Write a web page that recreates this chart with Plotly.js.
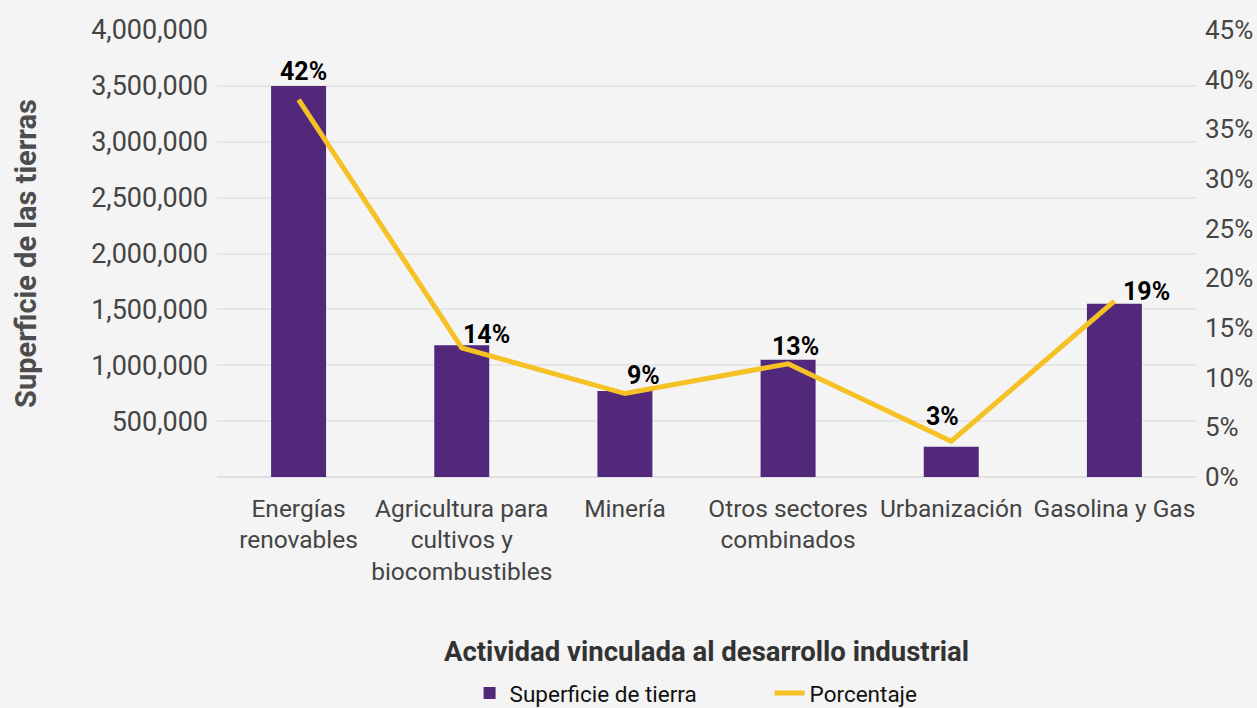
<!DOCTYPE html>
<html>
<head>
<meta charset="utf-8">
<script src="https://cdn.plot.ly/plotly-3.0.1.min.js"></script>
<style>html,body{margin:0;padding:0;background:#f4f4f4;}#chart{width:1257px;height:708px;}</style>
</head>
<body>
<div id="chart"></div>
<script>
const categories = [
  "Energías<br>renovables",
  "Agricultura para<br>cultivos y<br>biocombustibles",
  "Minería",
  "Otros sectores<br>combinados",
  "Urbanización",
  "Gasolina y Gas"
];
const superficie = [3500000, 1180000, 770000, 1050000, 270000, 1550000];
const porcentajeLinea = [38.0, 13.0, 8.4, 11.4, 3.6, 17.7];
const porcentajeTexto = ["42%", "14%", "9%", "13%", "3%", "19%"];
const leftTicks = [500000, 1000000, 1500000, 2000000, 2500000, 3000000, 3500000, 4000000];

const FONT = "Roboto, 'Noto Sans', sans-serif";

// label placement offsets (pixels, styling only)
const labelDx = [5, 25, 19, 7, -9, 32];
const labelDy = [28, 13, 18, 17, 25, 10];

const traces = [
  {
    type: "bar",
    name: "Superficie de tierra",
    x: categories,
    y: superficie,
    marker: {color: "#52297a"},
    yaxis: "y",
    hoverinfo: "x+y"
  },
  {
    type: "scatter",
    mode: "lines",
    name: "Porcentaje",
    x: categories,
    y: porcentajeLinea,
    line: {color: "#f5c125", width: 5},
    yaxis: "y2",
    cliponaxis: false
  }
];

const annotations = porcentajeTexto.map((t, i) => ({
  x: categories[i],
  y: porcentajeLinea[i],
  xref: "x",
  yref: "y2",
  text: t,
  showarrow: false,
  xanchor: "center",
  yanchor: "middle",
  xshift: labelDx[i],
  yshift: labelDy[i],
  font: {family: FONT, size: 25, color: "#000000", weight: "bold"}
}));

const layout = {
  width: 1257,
  height: 708,
  paper_bgcolor: "#f4f4f4",
  plot_bgcolor: "#f4f4f4",
  font: {family: FONT, color: "#444444"},
  margin: {l: 217, r: 61, t: 30, b: 231, autoexpand: false},
  bargap: 0.663,
  showlegend: true,
  legend: {
    orientation: "h",
    x: 0.258, xanchor: "left",
    y: -0.436, yanchor: "top",
    entrywidth: 255,
    entrywidthmode: "pixels",
    font: {family: FONT, size: 22.5, color: "#111111"},
    bgcolor: "rgba(0,0,0,0)"
  },
  annotations: annotations,
  xaxis: {
    type: "category",
    tickfont: {family: FONT, size: 24.5, color: "#444444"},
    ticklabelstandoff: 14,
    showgrid: false,
    showline: false,
    ticks: "",
    title: {
      text: "Actividad vinculada al desarrollo industrial",
      font: {family: FONT, size: 27.5, color: "#333333", weight: "bold"},
      standoff: 56
    }
  },
  yaxis: {
    range: [0, 4000000],
    tickvals: leftTicks,
    tickformat: ",d",
    tickfont: {family: FONT, size: 27, color: "#444444"},
    ticklabelstandoff: 8,
    showgrid: true,
    gridcolor: "#e6e6e6",
    gridwidth: 2,
    zeroline: true,
    zerolinecolor: "#e0e0e0",
    zerolinewidth: 2,
    showline: false,
    ticks: "",
    title: {
      text: "Superficie de las tierras",
      font: {family: FONT, size: 29, color: "#4d4d4d", weight: "bold"},
      standoff: 45
    }
  },
  yaxis2: {
    overlaying: "y",
    side: "right",
    range: [0, 45],
    dtick: 5,
    tick0: 0,
    ticksuffix: "%",
    tickfont: {family: FONT, size: 26, color: "#444444"},
    ticklabelstandoff: 8,
    showgrid: false,
    zeroline: false,
    showline: false,
    ticks: ""
  }
};

Plotly.newPlot("chart", traces, layout, {displayModeBar: false, responsive: false});
</script>
</body>
</html>
